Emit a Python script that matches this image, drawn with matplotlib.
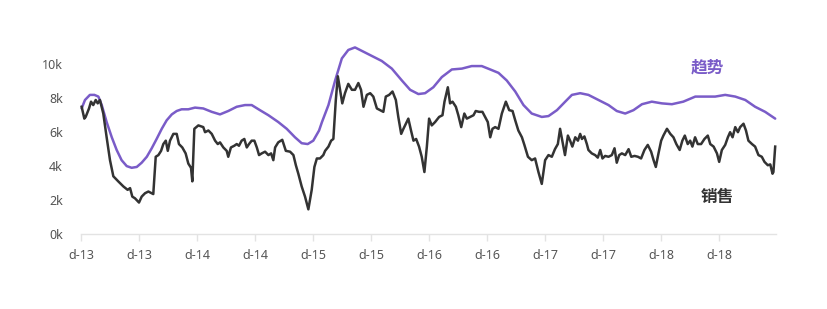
import matplotlib
matplotlib.use("Agg")
import matplotlib.pyplot as plt

plt.rcParams["font.family"] = ["Noto Sans", "Noto Sans CJK SC", "DejaVu Sans"]

# weekly sales (in thousands), x = week index
sales_week = [0.3, 1.5, 2.1, 3.6, 4.5, 5.5, 6.6, 7.5, 8.5, 10.0, 11.5, 13.0, 14.5, 16.7, 19.0,
              20.9, 22.0, 23.0, 24.2, 26.0, 27.2, 28.7, 30.2, 31.7, 32.4, 33.5, 34.7, 35.9, 36.9,
              38.0, 38.9, 39.9, 41.4, 42.9, 43.9, 45.4, 46.9, 48.1, 49.3, 49.9, 50.8, 52.6, 54.8,
              55.6, 57.1, 58.6, 60.1, 61.3, 62.3, 63.8, 65.3, 66.0, 67.2, 68.7, 69.8, 70.8, 72.0,
              73.2, 74.3, 75.3, 76.5, 77.7, 78.8, 79.8, 81.0, 82.5, 84.0, 85.2, 86.2, 87.0, 88.4,
              90.2, 91.8, 93.7, 95.2, 96.3, 97.4, 98.9, 100.4, 101.9, 103.4, 104.6, 105.7, 107.1,
              108.6, 109.4, 110.9, 112.1, 113.1, 114.2, 115.1, 116.1, 117.1, 118.3, 119.8, 121.4,
              122.8, 124.3, 125.5, 126.6, 128.1, 129.6, 131.0, 132.6, 134.0, 135.5, 136.6, 138.1,
              139.6, 141.1, 142.2, 143.5, 144.5, 145.6, 146.7, 147.9, 149.0, 150.2, 151.5, 152.7,
              153.9, 155.0, 156.0, 157.2, 158.7, 160.5, 162.0, 162.9, 164.4, 165.4, 166.5, 168.0,
              169.1, 170.4, 171.8, 172.9, 174.4, 175.9, 176.9, 178.4, 179.9, 181.1, 182.3, 183.4,
              184.4, 185.6, 187.1, 188.6, 190.4, 191.9, 193.4, 194.6, 196.0, 197.6, 198.7, 200.3,
              202.0, 203.5, 205.0, 206.5, 208.0, 209.5, 211.0, 212.4, 213.7, 214.7, 215.7, 216.9,
              218.2, 219.2, 220.2, 221.5, 222.7, 223.7, 224.5, 225.6, 226.7, 227.4, 228.9, 230.4,
              231.6, 232.7, 233.7, 234.9, 236.4, 237.9, 239.1, 240.1, 241.2, 242.4, 243.9, 245.4,
              246.6, 248.1, 249.6, 251.0, 252.5, 254.0, 255.5, 256.6, 257.6, 258.8, 260.0, 261.0,
              262.6, 264.1, 265.5, 266.8, 268.3, 269.5, 270.6, 271.9, 273.0, 274.0, 275.2, 276.4,
              277.9, 279.4, 280.9, 282.0, 283.5, 285.0, 286.0, 287.2, 288.7, 289.9, 290.9, 292.0,
              293.2, 294.4, 295.4, 296.9, 298.0, 299.1, 300.7, 302.1, 303.6, 305.1, 306.3, 307.8,
              308.9, 309.9, 310.3, 311.1]
sales_k = [7.5, 6.8, 6.9, 7.4, 7.8, 7.6, 7.9, 7.7, 7.9, 7.1, 5.7, 4.35, 3.4, 3.1, 2.8,
           2.6, 2.7, 2.2, 2.1, 1.85, 2.2, 2.4, 2.5, 2.4, 2.35, 4.55, 4.65, 4.9, 5.3,
           5.5, 4.9, 5.5, 5.9, 5.9, 5.3, 5.1, 4.75, 4.15, 3.9, 3.1, 6.2, 6.4, 6.3,
           6.0, 6.1, 5.9, 5.5, 5.3, 5.4, 5.1, 4.9, 4.55, 5.1, 5.2, 5.3, 5.2, 5.5,
           5.6, 5.1, 5.3, 5.5, 5.5, 5.1, 4.65, 4.75, 4.85, 4.65, 4.75, 4.35, 5.1, 5.4,
           5.55, 4.9, 4.85, 4.65, 4.05, 3.55, 2.8, 2.2, 1.45, 2.6, 3.95, 4.45, 4.45,
           4.65, 4.9, 5.15, 5.5, 5.6, 7.9, 9.3, 8.5, 7.7, 8.3, 8.85, 8.5,
           8.5, 8.9, 8.5, 7.5, 8.2, 8.3, 8.1, 7.4, 7.3, 7.2, 8.1, 8.2,
           8.4, 7.9, 6.9, 5.9, 6.2, 6.5, 6.8, 6.1, 5.5, 5.6, 5.15, 4.55,
           3.65, 5.15, 6.8, 6.4, 6.6, 6.9, 7.0, 7.8, 8.65, 7.7, 7.8, 7.5,
           7.0, 6.3, 7.1, 6.8, 6.9, 7.0, 7.25, 7.2, 7.2, 6.9, 6.6, 5.7,
           6.2, 6.3, 6.2, 7.1, 7.8, 7.3, 7.25, 6.7, 6.1, 5.7, 5.25, 4.55,
           4.35, 4.45, 3.65, 2.95, 4.35, 4.65, 4.55, 5.0, 5.3, 6.2, 5.5, 4.65,
           5.8, 5.5, 5.15, 5.7, 5.5, 5.9, 5.6, 5.75, 5.3, 4.95, 4.75, 4.65,
           4.5, 4.95, 4.45, 4.6, 4.55, 4.65, 5.05, 4.2, 4.65, 4.75, 4.65, 5.0,
           4.55, 4.6, 4.55, 4.45, 4.95, 5.25, 4.85, 4.35, 3.95, 4.75, 5.5, 5.8,
           6.2, 5.9, 5.7, 5.3, 4.95, 5.5, 5.8, 5.3, 5.5, 5.15, 5.7, 5.3,
           5.3, 5.6, 5.8, 5.3, 5.15, 4.75, 4.25, 4.95, 5.25, 5.7, 6.0, 5.7,
           6.3, 6.0, 6.3, 6.5, 6.1, 5.5, 5.3, 5.15, 4.65, 4.55, 4.25, 4.05,
           4.1, 3.55, 3.65, 5.15]

# smoothed trend (in thousands)
trend_week = [0.3, 1.8, 4.0, 6.0, 7.8, 9.3, 11.5, 13.8, 16.0, 18.2, 20.5, 22.7, 25.0, 27.2,
              29.5, 31.7, 33.9, 36.2, 38.4, 40.7, 42.9, 45.1, 48.1, 51.1, 54.8, 58.6, 62.3,
              66.0, 69.8, 73.5, 76.5, 80.2, 84.0, 88.4, 92.2, 95.9, 98.9, 101.6, 104.1, 106.7,
              108.0, 110.9, 113.9, 116.9, 119.8, 122.8, 125.8, 130.3, 134.8, 139.3, 143.8,
              147.5, 151.2, 154.2, 157.9, 161.7, 166.2, 170.7, 175.1, 179.6, 183.4, 187.1,
              190.8, 194.6, 198.3, 202.0, 206.5, 209.5, 213.3, 217.0, 220.0, 223.7, 227.4,
              231.9, 236.4, 240.1, 243.9, 247.6, 251.4, 255.8, 260.3, 264.8, 269.9, 275.3,
              279.8, 284.2, 288.7, 293.2, 297.7, 302.1, 306.6, 311.1]
trend_k = [7.4, 7.9, 8.2, 8.2, 8.1, 7.6, 6.6, 5.7, 4.95, 4.35, 4.0, 3.9, 3.95, 4.2,
           4.55, 5.05, 5.6, 6.2, 6.7, 7.05, 7.25, 7.35, 7.35, 7.45, 7.4, 7.2, 7.05,
           7.25, 7.5, 7.6, 7.6, 7.3, 7.0, 6.6, 6.2, 5.7, 5.35, 5.3, 5.5, 6.1,
           6.6, 7.6, 9.05, 10.35, 10.85, 11.0, 10.8, 10.5, 10.2, 9.75, 9.05,
           8.5, 8.25, 8.3, 8.65, 9.25, 9.7, 9.75, 9.9, 9.9, 9.7, 9.5,
           9.05, 8.4, 7.6, 7.1, 6.9, 6.95, 7.3, 7.8, 8.2, 8.3, 8.2,
           7.9, 7.6, 7.25, 7.1, 7.3, 7.65, 7.8, 7.7, 7.65, 7.8, 8.1,
           8.1, 8.1, 8.2, 8.1, 7.9, 7.5, 7.2, 6.8]

tick_weeks = [0, 26, 52, 78, 104, 130, 156, 182, 208, 234, 260, 286]
tick_labels = ["d-13", "d-13", "d-14", "d-14", "d-15", "d-15",
               "d-16", "d-16", "d-17", "d-17", "d-18", "d-18"]
y_ticks = [0, 2, 4, 6, 8, 10]

purple = "#7a5cc8"
dark = "#333333"

fig = plt.figure(figsize=(8.28, 3.09), dpi=100)
ax = fig.add_axes([0.0978, 0.243, 0.8395, 0.62])

ax.plot(trend_week, trend_k, color=purple, lw=1.8, solid_capstyle="round", clip_on=False)
ax.plot(sales_week, sales_k, color=dark, lw=1.8, solid_joinstyle="round", clip_on=False)

ax.set_xlim(0, 311.5)
ax.set_ylim(0, 11.3)
ax.set_xticks(tick_weeks)
ax.set_xticklabels(tick_labels)
ax.set_yticks(y_ticks)
ax.set_yticklabels([f"{v}k" for v in y_ticks])

for s in ["top", "right", "left"]:
    ax.spines[s].set_visible(False)
ax.spines["bottom"].set_color("#e3e3e3")
ax.spines["bottom"].set_linewidth(1.0)
ax.tick_params(axis="x", colors="#e3e3e3", length=5, width=1, labelcolor="#555555",
               labelsize=9, pad=6)
ax.tick_params(axis="y", length=0, labelcolor="#555555", labelsize=9, pad=13)

ax.text(280.7, 9.8, "趋势", color=purple, fontsize=12, fontweight="bold",
        ha="center", va="center", family=["Noto Sans CJK SC", "DejaVu Sans"])
ax.text(285.2, 2.15, "销售", color=dark, fontsize=12, fontweight="bold",
        ha="center", va="center", family=["Noto Sans CJK SC", "DejaVu Sans"])

fig.savefig("out.png", dpi=100)
